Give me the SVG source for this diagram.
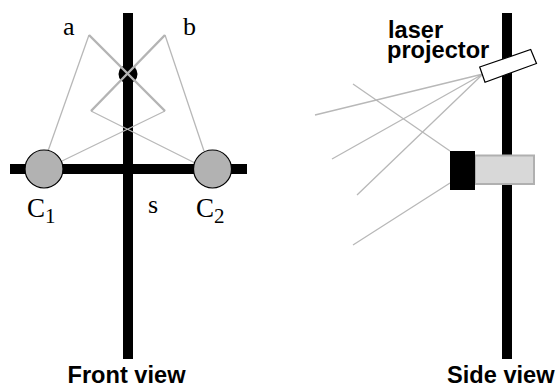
<svg xmlns="http://www.w3.org/2000/svg" width="557" height="388" viewBox="0 0 557 388">
<style>
.bar{fill:#000}
.thin{stroke:#b8b8b8;stroke-width:1.3;fill:none}
.thick{stroke:#b4b4b4;stroke-width:2.4;fill:none}
.cam{fill:#b2b2b2;stroke:#000;stroke-width:1.2}
.serif{font-family:"Liberation Serif",serif;font-size:26px;fill:#000}
.sub{font-size:21px}
.sans{font-family:"Liberation Sans",Arial,sans-serif;font-weight:bold;font-size:23.600px;fill:#000}
</style>
<rect width="557" height="388" fill="#fff"/>
<g id="front-structure">
<rect class="bar" x="123" y="13" width="10" height="346"/>
<rect class="bar" x="10" y="164" width="237" height="10"/>
<circle cx="128" cy="74" r="9.500" fill="#000"/>
</g>
<g id="side-structure">
<rect class="bar" x="502" y="13" width="10" height="346"/>
</g>
<g id="connectors">
<path class="thin" d="M89 35L48 151M165 35L204 151M91 111L195 163M165 111L62 161"/>
<path class="thick" d="M89 35L165 111M165 35L91 111"/>
<path class="thin" d="M483 74L315 115M483 74L332 159M483 74L357 195M353 84L450 151M353 245L450 183"/>
</g>
<g id="camera-c1"><circle class="cam" cx="44" cy="169" r="19"/></g>
<g id="camera-c2"><circle class="cam" cx="212.500" cy="169" r="19"/></g>
<g id="laser-projector"><polygon points="479.700,67 530.700,49.500 536.500,63.500 485,82.300" fill="#fff" stroke="#000" stroke-width="1.200"/></g>
<g id="side-camera">
<rect x="475" y="155.500" width="59" height="28.500" fill="#d8d8d8" stroke="#b0b0b0" stroke-width="2"/>
<rect class="bar" x="450" y="151" width="25" height="39"/>
</g>
<g id="labels">
<text class="serif" x="63" y="35">a</text>
<text class="serif" x="183" y="35">b</text>
<text class="serif" x="148" y="213">s</text>
<text class="serif" x="27" y="217" style="font-size:27px">C<tspan class="sub" dy="6">1</tspan></text>
<text class="serif" x="196" y="217" style="font-size:27px">C<tspan class="sub" dy="6">2</tspan></text>
<text class="sans" x="388" y="38">laser</text>
<text class="sans" x="387" y="58">projector</text>
<text class="sans" x="67.500" y="383">Front view</text>
<text class="sans" x="447" y="383">Side view</text>
</g>
</svg>
